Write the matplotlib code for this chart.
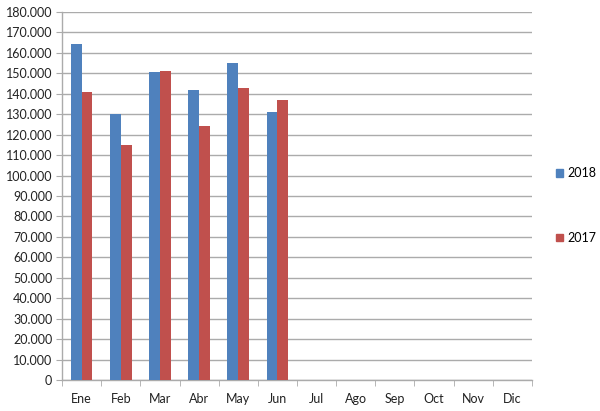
import matplotlib
matplotlib.use("Agg")
import matplotlib.pyplot as plt
import numpy as np
from matplotlib.patches import Patch

months = ["Ene", "Feb", "Mar", "Abr", "May", "Jun", "Jul", "Ago", "Sep", "Oct", "Nov", "Dic"]
s2018 = [164500, 130100, 150500, 141900, 155100, 131100]
s2017 = [141000, 115000, 151000, 124100, 143000, 137000]
yticks = list(range(0, 180001, 10000))

blue = "#4F81BD"
red = "#C0504D"
grid_c = "#ABABAB"

plt.rcParams['font.family'] = ['Lato', 'DejaVu Sans']

fig = plt.figure(figsize=(6, 4.11), dpi=100)
ax = fig.add_axes([62/600, 31/411, 470/600, 368/411])

x = np.arange(len(months))
w = 0.275
ax.bar(x[:len(s2018)] - w/2, s2018, width=w, color=blue, zorder=3, label="2018")
ax.bar(x[:len(s2017)] + w/2, s2017, width=w, color=red, zorder=3, label="2017")

ax.set_xlim(-0.5, len(months) - 0.5)
ax.set_ylim(0, 180000)
ax.set_yticks(yticks)
ax.set_yticklabels(["0" if v == 0 else f"{v:,}".replace(",", ".") for v in yticks])
ax.set_xticks(x)
ax.set_xticklabels(months)
ax.set_xticks(np.arange(-0.5, len(months), 1), minor=True)
ax.tick_params(axis='x', which='major', length=0, pad=9, labelsize=9, colors='#222222')
ax.tick_params(axis='x', which='minor', length=4, color=grid_c, direction='out')
ax.tick_params(axis='y', length=4, color=grid_c, labelsize=9, colors='#222222', pad=3)
ax.tick_params(axis='y', colors=grid_c, labelcolor='#222222')

ax.grid(axis='y', color=grid_c, linewidth=1, zorder=0)
for s in ['top', 'right']:
    ax.spines[s].set_visible(False)
for s in ['left', 'bottom']:
    ax.spines[s].set_color(grid_c)
    ax.spines[s].set_linewidth(1)

handles = [Patch(color=blue, label="2018"), Patch(color=red, label="2017")]
fig.legend(handles=handles, loc='center left', bbox_to_anchor=(556/600, 0.5), frameon=False,
           fontsize=9, handlelength=0.55, handleheight=0.55, handletextpad=0.35, labelspacing=4.2,
           borderpad=0, borderaxespad=0)

fig.savefig("out.png", dpi=100, facecolor='white')
